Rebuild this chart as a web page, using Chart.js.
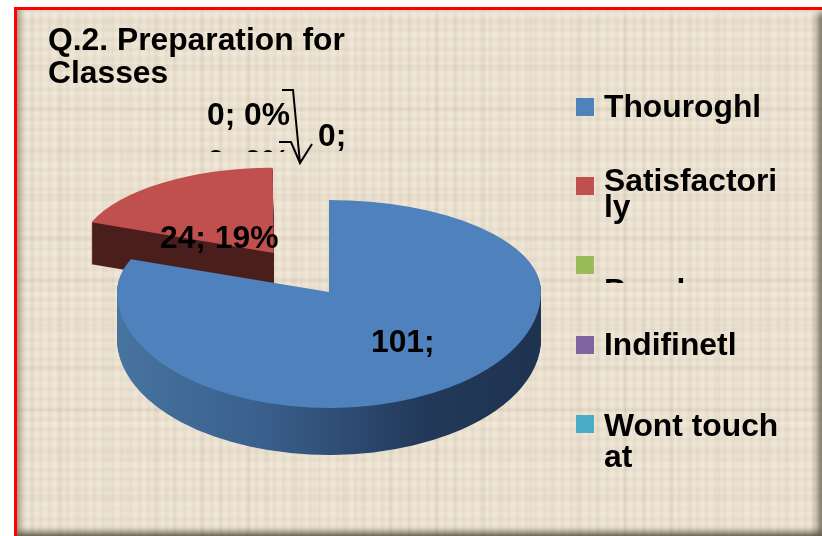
<!DOCTYPE html>
<html>
<head>
<meta charset="utf-8">
<title>Q.2. Preparation for Classes</title>
<script src="https://cdn.jsdelivr.net/npm/chart.js@4"></script>
<style>
  html, body { margin: 0; padding: 0; background: #fff; overflow: hidden; }
  #wrap { position: relative; width: 822px; height: 536px; overflow: hidden; }
  #frame {
    position: absolute; left: 14px; top: 7px; width: 808px; height: 529px;
    box-sizing: border-box; overflow: hidden;
    border-left: 3px solid #f00; border-top: 3px solid #f00;
    background: #ecE2d1;
  }
  /* Leinen-Textur als Hintergrund, weich gezeichnet */
  #weave {
    position: absolute; left: -4px; top: -4px; right: -4px; bottom: -4px;
    filter: blur(0.9px);
    background-color: #ede3d2;
    background-image:
      repeating-linear-gradient(90deg, rgba(110,90,60,.13) 0 1px, transparent 1px 5px, rgba(255,250,235,.28) 5px 6px, transparent 6px 9px),
      repeating-linear-gradient(0deg, rgba(110,90,60,.12) 0 1px, transparent 1px 6px, rgba(255,250,235,.28) 6px 7px, transparent 7px 10px),
      repeating-linear-gradient(90deg, rgba(100,85,60,.10) 0 2px, transparent 2px 19px, rgba(100,85,60,.07) 19px 21px, transparent 21px 47px),
      repeating-linear-gradient(0deg, rgba(100,85,60,.09) 0 2px, transparent 2px 29px, rgba(255,250,235,.14) 29px 32px, transparent 32px 43px);
  }
  #bevel {
    position: absolute; left: 0; top: 0; right: 0; bottom: 0;
    box-shadow:
      inset 5px 0 6px -2px rgba(90,80,60,.55),
      inset 0 6px 6px -3px rgba(250,250,235,.9),
      inset -7px 0 6px -3px rgba(70,60,45,.75),
      inset 0 -7px 6px -3px rgba(70,65,50,.75);
  }
  canvas { position: absolute; left: 0; top: 0; filter: blur(0.45px); }
</style>
</head>
<body>
<div id="wrap">
  <div id="frame"><div id="weave"></div><div id="bevel"></div></div>
  <canvas id="chart" width="822" height="536"></canvas>
</div>
<script>
// Daten
const categories = ["Thouroghly", "Satisfactorily", "Poorly", "Indifinetly", "Wont touch at"];
const values = [101, 24, 0, 0, 0];
const sliceColors = ["#4f81bd", "#c0504d", "#9bbb59", "#8064a2", "#4bacc6"];

// So wie im Bild umbrochene Legendentexte
const legendLines = [["Thouroghl"], ["Satisfactori", "ly"], ["Poorly"], ["Indifinetl"], ["Wont touch", "at"]];

const titleLines = ["Q.2. Preparation for", "Classes"];

const FONT = "bold 31.8px 'Liberation Sans', Arial, sans-serif";

// Aussehen der Tortenstücke: Stauchung oben/unten, Tiefe, Verschiebung
const sliceLook = [
  { radius: 212, kTop: 0.434, kBottom: 0.547, depth: 47, shift: 0, side: null },
  { radius: 189, kTop: 0.436, kBottom: 0.436, depth: 42, shift: -4, side: "#4b1f1d" }
];

const total = values.reduce((a, b) => a + b, 0);
function pct(i) { return Math.round(values[i] / total * 100) + "%"; }

function drawSlice(ctx, el, look, fill, dy) {
  const saved = el.options;
  el.options = Object.assign({}, saved, { backgroundColor: fill, borderWidth: 0 });
  el.outerRadius = look.radius;
  // obere und untere Hälfte getrennt stauchen (Perspektive)
  [[0, el.y, look.kTop], [el.y, 536 - el.y, look.kBottom]].forEach(function (h) {
    ctx.save();
    ctx.translate(0, dy + look.shift);
    ctx.beginPath();
    ctx.rect(0, h[0], 822, h[1]);
    ctx.clip();
    ctx.translate(0, el.y);
    ctx.scale(1, h[2]);
    ctx.translate(0, -el.y);
    el.draw(ctx);
    ctx.restore();
  });
  el.options = saved;
}

const piePlugin = {
  id: "pie3d",
  beforeDatasetDraw(chart, args) {
    const ctx = chart.ctx;
    const arcs = chart.getDatasetMeta(args.index).data;
    for (let i = sliceLook.length - 1; i >= 0; i--) {
      const el = arcs[i], look = sliceLook[i];
      let side = look.side;
      if (!side) {
        side = ctx.createLinearGradient(el.x - look.radius, 0, el.x + look.radius, 0);
        side.addColorStop(0, "#47749f");
        side.addColorStop(0.35, "#3a5f8c");
        side.addColorStop(0.72, "#22395a");
        side.addColorStop(1, "#1f3350");
      }
      for (let d = look.depth; d > 0; d--) drawSlice(ctx, el, look, side, d);
      drawSlice(ctx, el, look, sliceColors[i], 0);
    }
    return false;
  }
};

const textPlugin = {
  id: "texts",
  afterDraw(chart) {
    const ctx = chart.ctx;
    ctx.save();
    ctx.fillStyle = "#000";
    ctx.font = FONT;
    ctx.textBaseline = "alphabetic";

    // Titel
    ctx.fillText(titleLines[0], 48, 50);
    ctx.fillText(titleLines[1], 48, 83);

    // Legende
    const boxY = [98, 177, 256, 336, 415];
    const textY = [[117], [191, 217], [301], [355], [436, 467]];
    categories.forEach(function (c, i) {
      ctx.fillStyle = sliceColors[i];
      ctx.fillRect(576, boxY[i], 18, 18);
      ctx.fillStyle = "#000";
      ctx.save();
      if (i == 2) { // abgeschnittener Eintrag
        ctx.beginPath();
        ctx.rect(600, 277, 120, 6);
        ctx.clip();
      }
      legendLines[i].forEach((t, j) => ctx.fillText(t, 604, textY[i][j]));
      ctx.restore();
    });

    // Datenbeschriftungen
    ctx.fillText(values[0] + ";", 371, 352);
    ctx.fillText(values[1] + "; " + pct(1), 160, 248);
    ctx.fillText(values[2] + "; " + pct(2), 207, 125);
    ctx.fillText(values[3] + ";", 318, 146);
    ctx.save();
    ctx.beginPath();
    ctx.rect(205, 150, 85, 2);
    ctx.clip();
    ctx.fillText(values[4] + "; " + pct(4), 207, 172);
    ctx.restore();

    // Führungslinien
    ctx.strokeStyle = "#000";
    ctx.lineWidth = 2;
    ctx.beginPath();
    ctx.moveTo(282, 90); ctx.lineTo(293, 90); ctx.lineTo(300, 163);
    ctx.moveTo(279, 142); ctx.lineTo(291, 142); ctx.lineTo(300, 163); ctx.lineTo(312, 144);
    ctx.stroke();
    ctx.restore();
  }
};

new Chart(document.getElementById("chart"), {
  type: "pie",
  data: {
    labels: categories,
    datasets: [{
      data: values,
      backgroundColor: sliceColors,
      borderWidth: 0,
      offset: [0, 390, 0, 0, 0]
    }]
  },
  options: {
    responsive: false,
    animation: false,
    radius: 212,
    layout: { padding: { left: 0, right: 164, top: 48, bottom: 0 } },
    plugins: { legend: { display: false }, title: { display: false }, tooltip: { enabled: false } }
  },
  plugins: [piePlugin, textPlugin]
});
</script>
</body>
</html>
